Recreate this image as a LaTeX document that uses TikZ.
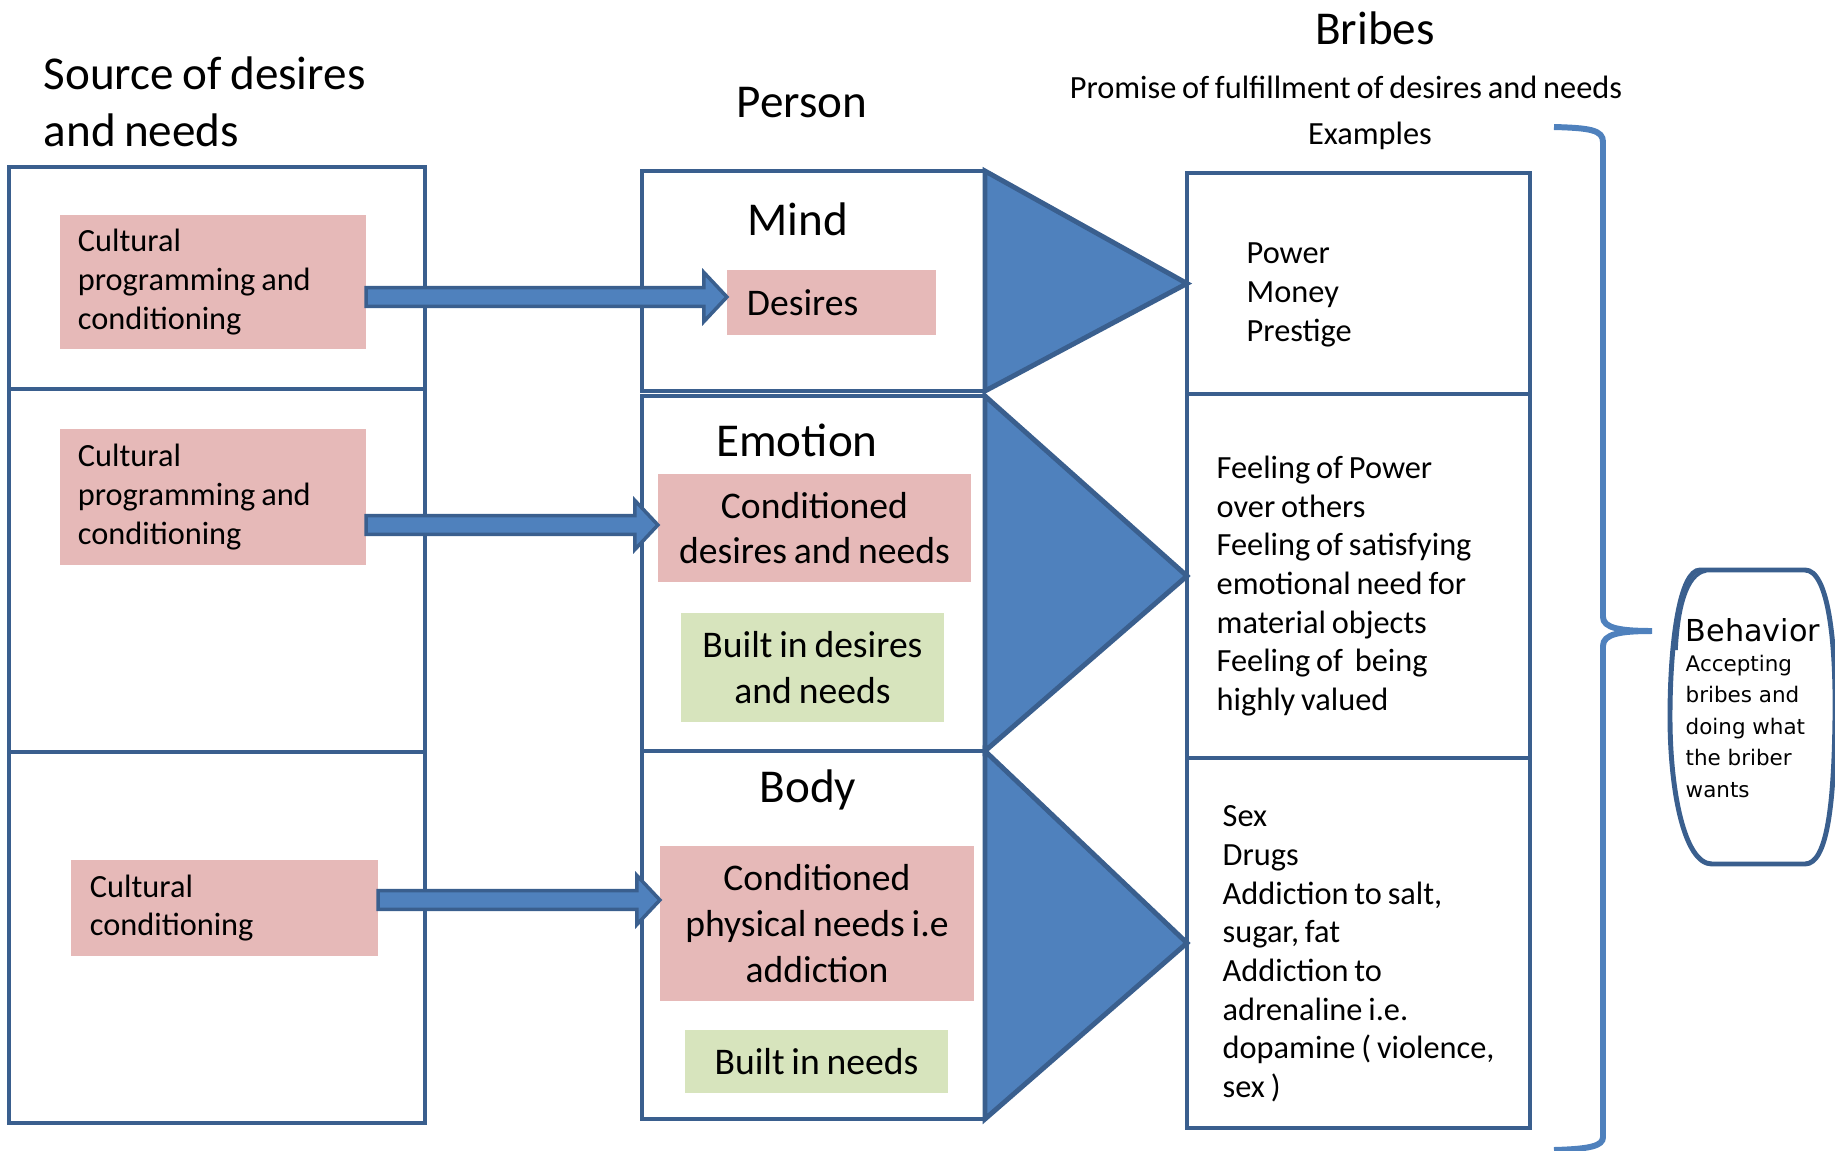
\documentclass[tikz,border=0pt]{standalone}
\usepackage{fontspec}
\setmainfont{Carlito}[WordSpace=0.8]
\newfontfamily\behfont{DejaVu Sans}
\usetikzlibrary{calc,fit}
\definecolor{frameblue}{HTML}{3A5F8E}
\definecolor{fillblue}{HTML}{4F81BD}
\definecolor{pinkbox}{HTML}{E6B9B8}
\definecolor{greenbox}{HTML}{D7E4BD}
\newcommand{\blockarrow}[3]{\filldraw[arrowbody] let \p1=(#1.east), \p2=(#2.west), \p3=(0,#3) in (\x1,\y3+0.094cm) -- (\x2-0.23cm,\y3+0.094cm) -- (\x2-0.23cm,\y3+0.245cm) -- (\x2,\y3) -- (\x2-0.23cm,\y3-0.245cm) -- (\x2-0.23cm,\y3-0.094cm) -- (\x1,\y3-0.094cm) -- cycle;}

\begin{document}
\begin{tikzpicture}[x=0.01cm, y=-0.01cm,
	colbox/.style={draw=frameblue, line width=1.4pt, inner sep=0pt, outer sep=0pt},
	wedge/.style={draw=frameblue, fill=fillblue, line width=1.4pt, line join=miter},
	arrowbody/.style={draw=frameblue, fill=fillblue, line width=1pt},
	pinkfill/.style={fill=pinkbox, inner sep=0pt, outer sep=0pt},
	greenfill/.style={fill=greenbox, inner sep=0pt, outer sep=0pt},
	bigfont/.style={font=\fontsize{13.4}{16.3}\selectfont},
	midfont/.style={font=\fontsize{10.7}{13}\selectfont},
	smallfont/.style={font=\fontsize{9.2}{11}\selectfont},
	brace/.style={draw=fillblue, line width=1.7pt}]
				\useasboundingbox (0,0) rectangle (1835,1151);
				
				\node[bigfont, anchor=west, align=left, inner sep=0pt] (srctitle) at (43,102) {Source of desires\\and needs};
				\node[bigfont] (persontitle) at (802,103) {Person};
				\node[bigfont] (bribetitle) at (1375,28) {Bribes};
				\node[smallfont] (promise) at (1346,87) {Promise of fulfillment of desires and needs};
				\node[smallfont] (examples) at (1370,136) {Examples};
				
				\node[colbox, fit={(9,167) (425,389)}] (src1) {};
				\node[colbox, fit={(9,389) (425,752)}] (src2) {};
				\node[colbox, fit={(9,752) (425,1123)}] (src3) {};
				
				\node[colbox, fit={(642,171) (985,391)}] (mind) {};
				\node[colbox, fit={(642,396) (985,751)}] (emotion) {};
				\node[colbox, fit={(642,751) (985,1119)}] (body) {};
				
				\node[colbox, fit={(1187,173) (1530,394)}] (brib1) {};
				\node[colbox, fit={(1187,394) (1530,758)}] (brib2) {};
				\node[colbox, fit={(1187,758) (1530,1128)}] (brib3) {};
				
				\filldraw[wedge] (mind.north east) -- (brib1.west) -- (mind.south east) -- cycle;
				\filldraw[wedge] (emotion.north east) -- (brib2.west) -- (emotion.south east) -- cycle;
				\filldraw[wedge] (body.north east) -- (brib3.west) -- (body.south east) -- cycle;
				
				\node[pinkfill, smallfont, minimum width=3.06cm, minimum height=1.34cm, text width=2.7cm, align=flush left] (cult1) at (213,282) {Cultural\\programming and\\conditioning};
				\node[pinkfill, smallfont, minimum width=3.06cm, minimum height=1.35cm, text width=2.7cm, align=flush left] (cult2) at (213,497) {Cultural\\programming and\\conditioning};
				\node[pinkfill, smallfont, minimum width=3.07cm, minimum height=0.96cm, text width=2.69cm, align=flush left] (cult3) at (224.5,908) {Cultural\\conditioning};
				
				\node[bigfont] (mindlabel) at (798,219) {Mind};
				\node[bigfont] (emotionlabel) at (797,440) {Emotion};
				\node[bigfont] (bodylabel) at (808,790) {Body};
				
				\node[pinkfill, midfont, minimum width=2.09cm, minimum height=0.65cm, text width=1.69cm, align=flush left] (desires) at (831.5,302.5) {Desires};
				\node[pinkfill, midfont, minimum width=3.13cm, minimum height=1.08cm, text width=3.13cm, align=flush center] (conddesires) at (814.5,528) {Conditioned\\desires and needs};
				\node[greenfill, midfont, minimum width=2.63cm, minimum height=1.09cm, text width=2.63cm, align=flush center] (builtdesires) at (812.5,667.5) {Built in desires\\and needs};
				\node[pinkfill, midfont, minimum width=3.14cm, minimum height=1.55cm, text width=3.14cm, align=flush center] (condphys) at (817,923.5) {Conditioned\\physical needs i.e\\addiction};
				\node[greenfill, midfont, minimum width=2.63cm, minimum height=0.63cm, text width=2.63cm, align=flush center] (builtneeds) at (816.5,1061.5) {Built in needs};
				
				\blockarrow{cult1}{desires}{297}
				\blockarrow{cult2}{conddesires}{525}
				\blockarrow{cult3}{condphys}{900}
				
				\node[smallfont, anchor=west, align=left, inner sep=0pt] (powerlist) at (1246,295) {Power\\Money\\Prestige};
				\node[smallfont, anchor=west, align=left, inner sep=0pt] (feelinglist) at (1216,586) {Feeling of Power\\over others\\Feeling of satisfying\\emotional need for\\material objects\\Feeling of \ being\\highly valued};
				\node[smallfont, anchor=west, align=left, inner sep=0pt] (addictlist) at (1222,954) {Sex\\Drugs\\Addiction to salt,\\sugar, fat\\Addiction to\\adrenaline i.e.\\dopamine ( violence,\\sex )};
				
				\draw[brace] (1554,127) .. controls (1590,128) and (1603,130) .. (1603,142) -- (1603,617) .. controls (1603,628) and (1620,631) .. (1652,631) .. controls (1620,631) and (1603,634) .. (1603,646) -- (1603,1137) .. controls (1603,1146) and (1590,1149) .. (1554,1150);
				
				\draw[colbox] (1700,570) -- (1805,570) .. controls (1828,570) and (1836,640) .. (1835,717) .. controls (1834,800) and (1828,864) .. (1805,864) -- (1712,864) .. controls (1684,864) and (1670,790) .. (1670,717) .. controls (1670,640) and (1680,570) .. cycle;
				\draw[colbox, line width=1pt] (1706,571) .. controls (1686,574) and (1678,610) .. (1676,650);
				
				\node[anchor=west, inner sep=0pt, font=\behfont\fontsize{8.6}{10}\selectfont] (behtitle) at (1685,630) {Behavior};
				\node[anchor=north west, inner sep=0pt, align=left, font=\behfont\fontsize{6.1}{9}\selectfont] (behtext) at (1685,654) {Accepting\\bribes and\\doing what\\the briber\\wants};
			\end{tikzpicture}
\end{document}
